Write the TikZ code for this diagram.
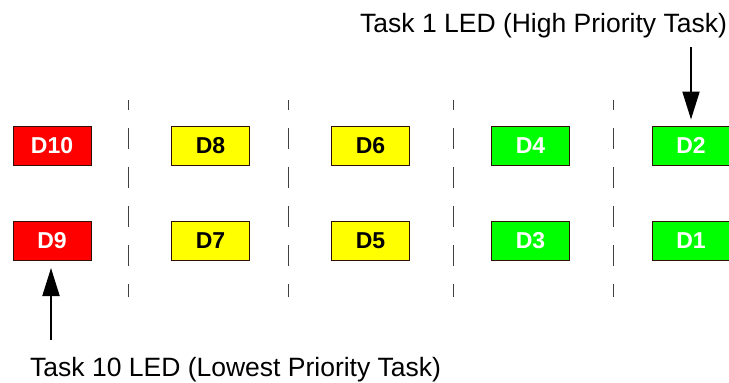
\documentclass[tikz,border=0pt]{standalone}
\usepackage{fontspec}
\setmainfont{Liberation Sans}
\usetikzlibrary{arrows.meta}
\definecolor{ledred}{RGB}{255,0,0}
\definecolor{ledyellow}{RGB}{255,255,0}
\definecolor{ledgreen}{RGB}{0,255,0}
\definecolor{ledborder}{RGB}{50,15,5}
\tikzset{
  led/.style={draw=ledborder, line width=1pt, minimum width=78pt, minimum height=39pt, inner sep=0pt,
    font=\fontsize{23}{24}\selectfont\bfseries},
  redled/.style={led, fill=ledred, text=white},
  yelled/.style={led, fill=ledyellow, text=black},
  grnled/.style={led, fill=ledgreen, text=white},
  sep/.style={draw=black!75, line width=1pt, dash pattern=on 21pt off 18pt, dash phase=11pt},
  label/.style={font=\fontsize{26.5}{30}\selectfont, inner sep=0pt, anchor=base west},
  ptr/.style={draw=black, line width=2pt, -{Triangle[length=28pt,width=17pt]}}
}
\begin{document}
\begin{tikzpicture}[x=1pt,y=-1pt]
\useasboundingbox (0,0) rectangle (729,383);
% separators
\foreach \xx in {128,288,453,613} {
  \draw[sep] (\xx,100) -- (\xx,297);
}
% LEDs
\node[redled] (d10) at (52,145.5) {D10};
\node[redled] (d9)  at (52,241) {D9};
\node[yelled] (d8)  at (210.5,145.5) {D8};
\node[yelled] (d7)  at (210.5,241) {D7};
\node[yelled] (d6)  at (370.5,145.5) {D6};
\node[yelled] (d5)  at (370.5,241) {D5};
\node[grnled] (d4)  at (530.5,145.5) {D4};
\node[grnled] (d3)  at (530.5,241) {D3};
\node[grnled] (d2)  at (691,145.5) {D2};
\node[grnled] (d1)  at (691,241) {D1};
% labels
\node[label] (top) at (360,32) {Task 1 LED (High Priority Task)};
\node[label] (bot) at (30,376.7) {Task 10 LED (Lowest Priority Task)};
% arrows
\coordinate (topstart) at (691,47);
\coordinate (botstart) at (51,340);
\draw[ptr, shorten >=6pt] (topstart) -- (d2.north);
\draw[ptr, shorten >=7pt] (botstart) -- (d9.south -| botstart);
\end{tikzpicture}
\end{document}
